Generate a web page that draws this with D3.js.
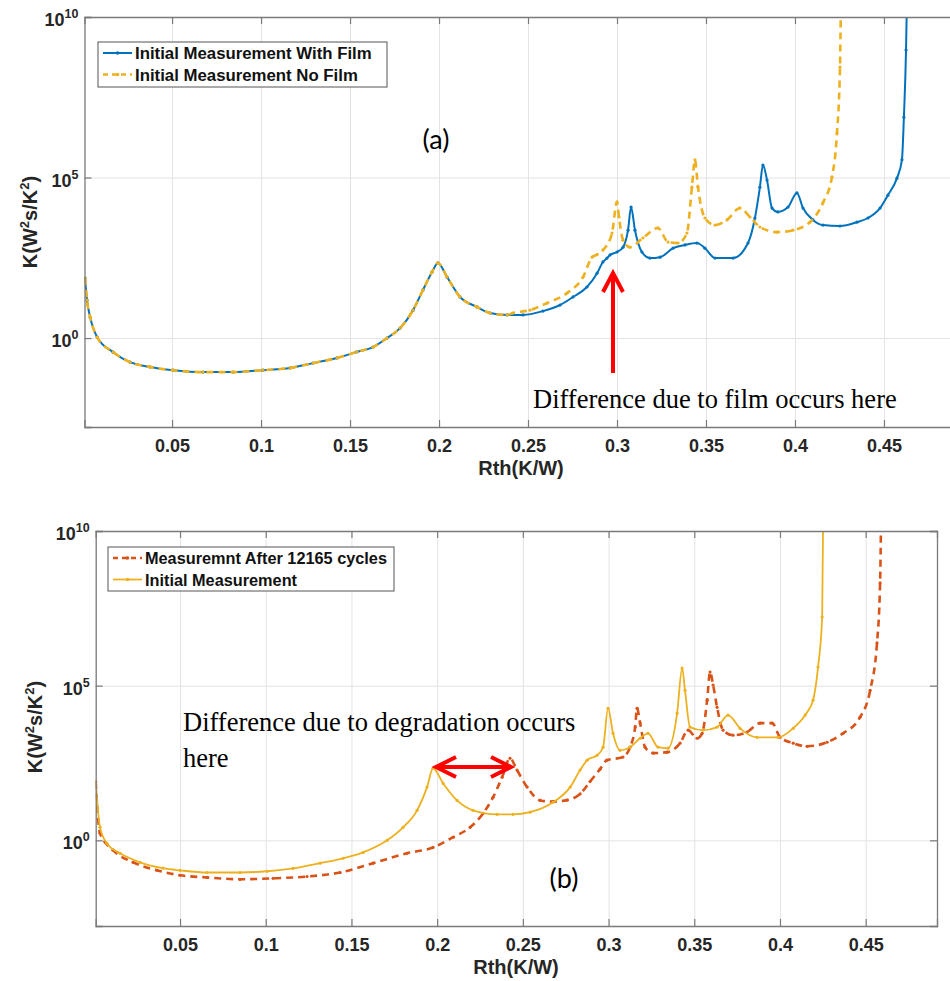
<!DOCTYPE html>
<html><head><meta charset="utf-8">
<script src="https://cdn.jsdelivr.net/npm/d3@7"></script>
<style>body{margin:0;background:#fff} svg{display:block}</style>
</head><body><svg id="c" width="950" height="981"></svg>
<script>
// ---------------- DATA (x = Rth in K/W, values = log10 of K in W^2 s / K^2) ----------------
const xTicks = [0.05, 0.1, 0.15, 0.2, 0.25, 0.3, 0.35, 0.4, 0.45];
const xTickLabels = ["0.05", "0.1", "0.15", "0.2", "0.25", "0.3", "0.35", "0.4", "0.45"];
const yTickExps = [0, 5, 10];

// Panel (a): Initial Measurement With Film (blue)
const filmX = [0.0011,0.0022,0.004,0.0079,0.0169,0.0264,0.0376,0.0506,0.0674,0.0843,0.1011,0.1163,0.1292,0.1427,0.1539,0.1629,0.1708,0.1781,0.1854,0.191,0.1961,0.1994,0.2045,0.2118,0.2213,0.2287,0.2382,0.2472,
  0.2584,0.268,0.2753,0.2831,0.2888,0.2921,0.2944,0.2961,0.3,0.3034,0.3062,0.3079,0.3101,0.314,0.3185,0.3242,0.3315,0.3382,0.3449,0.3494,0.3551,0.3652,0.3736,0.3775,0.3803,0.382,0.3843,0.3871,0.3904,0.3961,0.4011,0.4045,0.4101,0.4157,0.4253,0.4348,0.441,0.4478,0.4522,0.4573,0.4601,0.4612,0.4624,0.4629];
const filmExp = [1.87,1.18,0.65,0.03,-0.44,-0.75,-0.9,-1.0,-1.06,-1.06,-1.0,-0.93,-0.78,-0.62,-0.43,-0.28,0.0,0.31,0.87,1.5,2.06,2.34,1.9,1.28,0.97,0.78,0.72,0.72,
  0.84,1.03,1.28,1.59,2.02,2.37,2.49,2.59,2.68,2.83,3.36,4.08,3.36,2.68,2.49,2.52,2.8,2.9,2.96,2.8,2.49,2.49,2.96,3.74,4.7,5.39,4.92,4.05,3.93,4.08,4.52,4.05,3.68,3.52,3.49,3.61,3.74,4.05,4.45,4.98,5.55,6.88,8.97,10.5];

// Panel (a): Initial Measurement No Film (yellow dashed)
const noFilmX = [0.0011,0.0022,0.004,0.0079,0.0169,0.0264,0.0376,0.0506,0.0674,0.0843,0.1011,0.1163,0.1292,0.1427,0.1539,0.1629,0.1708,0.1781,0.1854,0.191,0.1961,0.1994,0.2045,0.2118,0.2213,0.2287,0.2382,
  0.2416,0.2511,0.2607,0.2719,0.2809,0.286,0.2888,0.2921,0.2972,0.3,0.3011,0.3034,0.3073,0.3146,0.323,0.3287,0.3343,0.3393,0.3421,0.3438,0.3455,0.3494,0.3551,0.3618,0.3691,0.3747,0.3803,0.3899,0.3989,0.4084,0.4157,0.4208,0.4236,0.4253,0.4258];
const noFilmExp = [1.87,1.18,0.65,0.03,-0.44,-0.75,-0.9,-1.0,-1.06,-1.06,-1.0,-0.93,-0.78,-0.62,-0.43,-0.28,0.0,0.31,0.87,1.5,2.06,2.34,1.9,1.28,0.97,0.78,0.72,
  0.78,0.87,1.09,1.4,1.9,2.52,2.6,2.74,3.27,4.24,3.77,3.05,2.83,3.12,3.43,2.99,2.96,3.27,4.7,5.55,4.7,3.74,3.52,3.68,4.05,3.77,3.46,3.3,3.36,3.61,4.21,5.02,6.39,8.44,10.5];

// Panel (b): Measurement After 12165 cycles (red dashed)
const afterX = [0.0008,0.0033,0.0109,0.0226,0.0366,0.05,0.0658,0.085,0.1043,0.1241,0.1434,0.1626,0.1824,0.1976,0.2093,0.2192,0.2268,0.2326,0.2379,0.2425,0.2466,0.2525,0.2601,0.2676,0.2758,0.2834,0.2892,0.295,0.299,
  0.3084,0.3125,0.3155,0.3166,0.3184,0.3213,0.326,0.3342,0.3417,0.3464,0.3516,0.3546,0.3575,0.3592,0.361,0.3633,0.3668,0.3726,0.3808,0.3884,0.3954,0.4001,0.4077,0.4158,0.4275,0.4368,0.4467,0.4526,0.4566,0.4584,0.459];
const afterExp = [1.89,0.23,-0.32,-0.71,-0.97,-1.13,-1.2,-1.26,-1.23,-1.17,-1.04,-0.74,-0.42,-0.23,0.1,0.42,0.87,1.39,2.04,2.65,2.27,1.72,1.29,1.25,1.3,1.5,1.9,2.3,2.59,
  2.69,3.01,3.66,4.27,3.79,3.01,2.82,2.85,3.14,3.56,3.3,3.46,4.53,5.44,5.02,4.3,3.56,3.4,3.5,3.79,3.79,3.33,3.14,3.04,3.17,3.46,3.98,4.85,6.38,8.32,10.5];

// Panel (b): Initial Measurement (yellow solid)
const initialX = [0.0008,0.0033,0.0074,0.015,0.0267,0.0401,0.05,0.0658,0.085,0.1008,0.1159,0.1317,0.1451,0.1568,0.1708,0.1801,0.1883,0.1941,0.1976,0.2035,0.2116,0.2209,0.235,0.2443,0.2542,0.2676,0.2776,0.2834,0.2875,0.2933,0.2968,0.2997,
  0.3026,0.3067,0.3125,0.3184,0.323,0.3289,0.3347,0.34,0.3429,0.3446,0.3475,0.3551,0.3633,0.3697,0.3767,0.3866,0.3989,0.4077,0.4147,0.4193,0.4222,0.4246,0.4252];
const initialExp = [1.89,0.42,-0.1,-0.42,-0.71,-0.9,-0.97,-1.04,-1.04,-1.0,-0.91,-0.74,-0.58,-0.39,0.0,0.42,0.97,1.72,2.33,1.84,1.29,0.97,0.84,0.84,0.91,1.23,1.72,2.27,2.59,2.75,3.01,4.27,
  3.46,2.91,3.01,3.3,3.46,3.01,2.98,4.11,5.57,4.85,3.66,3.56,3.66,4.05,3.62,3.33,3.33,3.62,4.05,4.53,5.6,7.22,10.5];

const legendA = ["Initial Measurement With Film", "Initial Measurement No Film"];
const legendB = ["Measuremnt After 12165 cycles", "Initial Measurement"];

// ---------------- DRAWING ----------------
const svg = d3.select('#c');
const C = {blue:'#0072BD', yellow:'#EDB120', red:'#D95319'};
const FONT = '"Liberation Sans", Arial, Helvetica, sans-serif';
const xDomain = [0.0008, 0.4916];
const yDomain = [Math.pow(10, -2.77), 1e10];

function toPts(xs, es){ return xs.map((x,i)=>({x:x, k:Math.pow(10, es[i])})); }

function panel(cfg){
  const g = svg.append('g');
  const x = d3.scaleLinear().domain(xDomain).range([cfg.left, cfg.right]);
  const y = d3.scaleLog().domain(yDomain).range([cfg.bottom, cfg.top]);
  const H = cfg.bottom - cfg.top, W = cfg.right - cfg.left;
  const id = 'clip' + cfg.name;
  svg.append('clipPath').attr('id', id).append('rect')
    .attr('x', cfg.left).attr('y', cfg.top).attr('width', W).attr('height', H);

  // grid
  g.append('g').attr('transform', `translate(0,${cfg.bottom})`)
    .call(d3.axisBottom(x).tickValues(xTicks).tickSize(-H).tickFormat(''))
    .call(s=>{s.select('.domain').remove(); s.selectAll('line').attr('stroke','#e3e3e3').attr('stroke-width',1);});
  g.append('g').attr('transform', `translate(${cfg.left},0)`)
    .call(d3.axisLeft(y).tickValues(yTickExps.map(e=>Math.pow(10,e))).tickSize(-W).tickFormat(''))
    .call(s=>{s.select('.domain').remove(); s.selectAll('line').attr('stroke','#e3e3e3').attr('stroke-width',1);});

  // series
  const line = d3.line().x(d=>x(d.x)).y(d=>y(d.k)).curve(d3.curveMonotoneX);
  const plot = g.append('g').attr('clip-path', `url(#${id})`);
  cfg.series.forEach(s=>{
    const pts = toPts(s.xs, s.es);
    plot.append('path').datum(pts).attr('d', line).attr('fill','none')
      .attr('stroke', s.color).attr('stroke-width', s.width)
      .attr('stroke-dasharray', s.dash || null).attr('stroke-linejoin','round');
    plot.selectAll(null).data(pts).enter().append('circle')
      .attr('cx', d=>x(d.x)).attr('cy', d=>y(d.k)).attr('r', 1.6).attr('fill', s.color);
  });

  // axes (ticks inward)
  const axCol = '#7a7a7a';
  const bx = g.append('g').attr('transform', `translate(0,${cfg.bottom})`)
    .call(d3.axisBottom(x).tickValues(xTicks).tickSize(-7).tickPadding(12).tickFormat((d,i)=>xTickLabels[i]));
  bx.selectAll('text').attr('font-family', FONT).attr('font-weight','bold').attr('font-size', 18).attr('fill','#262626');
  const tx = g.append('g').attr('transform', `translate(0,${cfg.top})`)
    .call(d3.axisTop(x).tickValues(xTicks).tickSize(-7).tickFormat(''));
  const ly = g.append('g').attr('transform', `translate(${cfg.left},0)`)
    .call(d3.axisLeft(y).tickValues(yTickExps.map(e=>Math.pow(10,e))).tickSize(-7).tickFormat(''));
  const axes = [bx, tx, ly];
  if (cfg.rightAxis) {
    axes.push(g.append('g').attr('transform', `translate(${cfg.right},0)`)
      .call(d3.axisRight(y).tickValues(yTickExps.map(e=>Math.pow(10,e))).tickSize(-7).tickFormat('')));
  }
  axes.forEach(a=>{ a.select('.domain').attr('stroke', axCol).attr('stroke-width',1.3);
    a.selectAll('.tick line').attr('stroke', axCol).attr('stroke-width',1.2); });

  // y tick labels 10^n
  yTickExps.forEach(e=>{
    const t = g.append('text').attr('x', cfg.left - 6).attr('y', y(Math.pow(10,e)) + 9)
      .attr('text-anchor','end').attr('font-family', FONT).attr('font-weight','bold').attr('fill','#262626');
    t.append('tspan').attr('font-size', 18).text('10');
    t.append('tspan').attr('font-size', 12.5).attr('dy', -8).text(String(e));
  });

  // axis labels
  g.append('text').attr('x', cfg.xlabX).attr('y', cfg.xlabY).attr('text-anchor','middle')
    .attr('font-family', FONT).attr('font-weight','bold').attr('font-size', 20).attr('fill','#262626').text('Rth(K/W)');
  const yl = g.append('text').attr('transform', `translate(${cfg.ylabX},${cfg.ylabY}) rotate(-90)`)
    .attr('text-anchor','middle').attr('font-family', FONT).attr('font-weight','bold').attr('font-size', 20).attr('fill','#262626');
  yl.append('tspan').text('K(W');
  yl.append('tspan').attr('font-size', 13).attr('dy', -8).text('2');
  yl.append('tspan').attr('dy', 8).text('s/K');
  yl.append('tspan').attr('font-size', 13).attr('dy', -8).text('2');
  yl.append('tspan').attr('dy', 8).text(')');

  // legend
  const L = cfg.legend;
  g.append('rect').attr('x', L.x).attr('y', L.y).attr('width', L.w).attr('height', L.h)
    .attr('fill','#fff').attr('stroke','#555').attr('stroke-width',1);
  cfg.series.forEach((s,i)=>{
    const yy = L.y + 11 + i*21.5;
    g.append('line').attr('x1', L.x+5).attr('x2', L.x+34).attr('y1', yy).attr('y2', yy)
      .attr('stroke', s.color).attr('stroke-width', s.width).attr('stroke-dasharray', s.dash ? '5,4' : null);
    g.append('circle').attr('cx', L.x+19.5).attr('cy', yy).attr('r', 1.8).attr('fill', s.color);
    g.append('text').attr('x', L.x+37).attr('y', yy+6).attr('font-family', FONT).attr('font-weight','bold')
      .attr('font-size', L.fs).attr('fill','#111').text(L.labels[i]);
  });
  return {g, x, y};
}

panel({name:'a', left:84.5, right:958, top:17, bottom:427, rightAxis:false,
  xlabX:521, xlabY:475, ylabX:37, ylabY:222,
  legend:{x:98, y:42, w:289, h:45, fs:16.8, labels:legendA},
  series:[
    {xs:filmX, es:filmExp, color:C.blue, width:2},
    {xs:noFilmX, es:noFilmExp, color:C.yellow, width:2.6, dash:'7,5'}
  ]});

panel({name:'b', left:95.7, right:937, top:531, bottom:926, rightAxis:true,
  xlabX:516, xlabY:974, ylabX:42, ylabY:727,
  legend:{x:108, y:547, w:286, h:44, fs:16.3, labels:legendB},
  series:[
    {xs:afterX, es:afterExp, color:C.red, width:2.6, dash:'7,5'},
    {xs:initialX, es:initialExp, color:C.yellow, width:1.8}
  ]});

// annotations
const SERIF = '"Liberation Serif", "Times New Roman", serif';
const SANS2 = 'Lato, "Open Sans", sans-serif';
svg.append('text').attr('x', 436).attr('y', 149).attr('text-anchor','middle').attr('font-family', SANS2)
  .attr('font-size', 27).attr('fill','#000').text('(a)');
svg.append('text').attr('x', 564).attr('y', 888).attr('text-anchor','middle').attr('font-family', SANS2)
  .attr('font-size', 27).attr('fill','#000').text('(b)');
svg.append('text').attr('x', 533).attr('y', 408).attr('font-family', SERIF).attr('font-size', 26.5).attr('fill','#000')
  .text('Difference due to film occurs here');
svg.append('text').attr('x', 183).attr('y', 731).attr('font-family', SERIF).attr('font-size', 26.5).attr('fill','#000')
  .text('Difference due to degradation occurs');
svg.append('text').attr('x', 183).attr('y', 767).attr('font-family', SERIF).attr('font-size', 26.5).attr('fill','#000')
  .text('here');

const red = '#FF0000';
svg.append('line').attr('x1',613).attr('x2',613).attr('y1',373).attr('y2',274).attr('stroke',red).attr('stroke-width',4);
svg.append('polyline').attr('points','603,292 613,273 623,292').attr('fill','none').attr('stroke',red).attr('stroke-width',4);
svg.append('line').attr('x1',437).attr('x2',510).attr('y1',767).attr('y2',767).attr('stroke',red).attr('stroke-width',4);
svg.append('polyline').attr('points','456,757 436,767 456,777').attr('fill','none').attr('stroke',red).attr('stroke-width',4);
svg.append('polyline').attr('points','491,757 511,767 491,777').attr('fill','none').attr('stroke',red).attr('stroke-width',4);
</script>
</body></html>
